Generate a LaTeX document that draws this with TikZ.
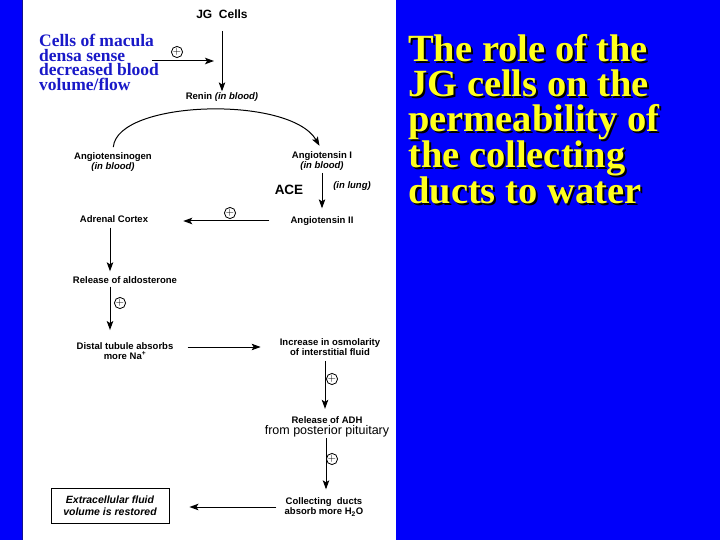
\documentclass[tikz,border=0pt]{standalone}
\usepackage{fontspec}
\setmainfont{Liberation Serif}
\newfontfamily\diagfont{Liberation Sans}
\usetikzlibrary{arrows.meta,positioning}
\definecolor{slideblue}{RGB}{0,0,250}
\definecolor{edgeblue}{RGB}{20,20,140}
\definecolor{maculablue}{RGB}{25,25,200}
\definecolor{titleyellow}{RGB}{255,255,30}

\begin{document}
\begin{tikzpicture}[x=1pt,y=-1pt,
    lbl/.style={font=\diagfont\bfseries\fontsize{9.5}{10.5}\selectfont, align=center, inner sep=1pt},
    flow/.style={-{Stealth[length=9pt,width=6.5pt,inset=2pt]}, line width=1pt},
    pluscirc/.style={circle, draw, line width=0.8pt, inner sep=0pt, minimum size=10.5pt, font=\fontsize{11}{11}\selectfont}]
    \useasboundingbox (0,0) rectangle (720,540);
    % slide background
    \fill[slideblue] (0,0) rectangle (720,540);
    \fill[white] (23,0) rectangle (396,540);
    \draw[edgeblue] (22.5,0) -- (22.5,540);
    % title
    \node[anchor=north west, inner sep=0, align=left, text=black,
          font=\bfseries\fontsize{38.5}{35}\selectfont] (titleshadow) at (410,36)
        {The role of the\\JG cells on the\\permeability of\\the collecting\\ducts to water};
    \node[anchor=north west, inner sep=0, align=left, text=titleyellow,
          font=\bfseries\fontsize{38.5}{35}\selectfont] (title) at (408,34)
        {The role of the\\JG cells on the\\permeability of\\the collecting\\ducts to water};
    \node[anchor=north west, inner sep=0, align=left, text=maculablue,
          font=\bfseries\fontsize{17.5}{14.7}\selectfont] (macula) at (39,34)
        {Cells of macula\\densa sense\\decreased blood\\volume/flow};
    % steps
    \node[font=\diagfont\bfseries\fontsize{12}{14}\selectfont] (jg) at (222,14) {JG\ \ Cells};
    \node[lbl] (renin) at (222,97) {Renin \textit{(in blood)}};
    \node[lbl] (angen) at (113,162) {Angiotensinogen\\\textit{(in blood)}};
    \node[lbl] (angI) at (322,161) {Angiotensin I\\\textit{(in blood)}};
    \node[font=\diagfont\bfseries\fontsize{13.5}{15}\selectfont] (ace) at (289,190) {ACE};
    \node[lbl] (lung) at (352,186) {\textit{(in lung)}};
    \node[lbl] (angII) at (322,221) {Angiotensin II};
    \node[lbl] (adrenal) at (114,219) {Adrenal Cortex};
    \node[lbl] (aldo) at (125,280) {Release of aldosterone};
    \node[lbl] (distal) at (125,351) {Distal tubule absorbs\\more Na\textsuperscript{+}};
    \node[lbl] (osmo) at (330,347) {Increase in osmolarity\\of interstitial fluid};
    \node[lbl] (adh) at (327,427) {Release of ADH\\{\mdseries\fontsize{12.5}{15}\selectfont from posterior pituitary}};
    \node[lbl] (ducts) at (324,507) {Collecting\ \ ducts\\absorb more H\textsubscript{2}O};
    \node[draw, line width=0.9pt, minimum width=118pt, minimum height=35pt, align=center,
          font=\diagfont\bfseries\itshape\fontsize{10.5}{12}\selectfont] (ecf) at (110,505.5)
        {Extracellular fluid\\volume is restored};
    % arrows
    \coordinate (macout) at (152,61);
    \coordinate (jgin) at (214,61);
    \draw[flow] (macout) -- (jgin);
    \draw[flow, shorten <=9pt] (jg) -- (renin);
    \draw[flow, shorten <=4pt, shorten >=5pt] (angen.north) .. controls (117,100) and (290,95) .. (angI.north);
    \draw[flow, shorten <=1pt, shorten >=7pt] (angI) -- (angII);
    \draw[flow, shorten <=20pt, shorten >=34pt] (angII.west) -- (angII.west -| adrenal.east);
    \draw[flow, shorten <=4pt, shorten >=4pt] ([xshift=-4pt]adrenal.south) -- ([xshift=-4pt]adrenal.south |- aldo.north);
    \draw[flow, shorten <=2pt, shorten >=11pt] ([xshift=-15pt]aldo.south) -- ([xshift=-15pt]aldo.south |- distal.north);
    \draw[flow, shorten <=13pt, shorten >=18pt] (distal.east |- osmo) -- (osmo.west);
    \draw[flow, shorten <=4pt, shorten >=7pt] ([xshift=-5pt]osmo.south) -- ([xshift=-5pt]osmo.south |- adh.north);
    \draw[flow, shorten >=7pt] ([xshift=-1pt]adh.south) -- ([xshift=-1pt]adh.south |- ducts.north);
    \draw[flow, shorten <=7pt, shorten >=20pt] (ducts.west) -- (ducts.west -| ecf.east);
    % plus signs
    \foreach \n/\x/\y in {plusa/177/52, plusb/230/213, plusc/120/303, plusd/332/379, pluse/332/459}
        \node[pluscirc] (\n) at (\x,\y) {$+$};
\end{tikzpicture}
\end{document}
